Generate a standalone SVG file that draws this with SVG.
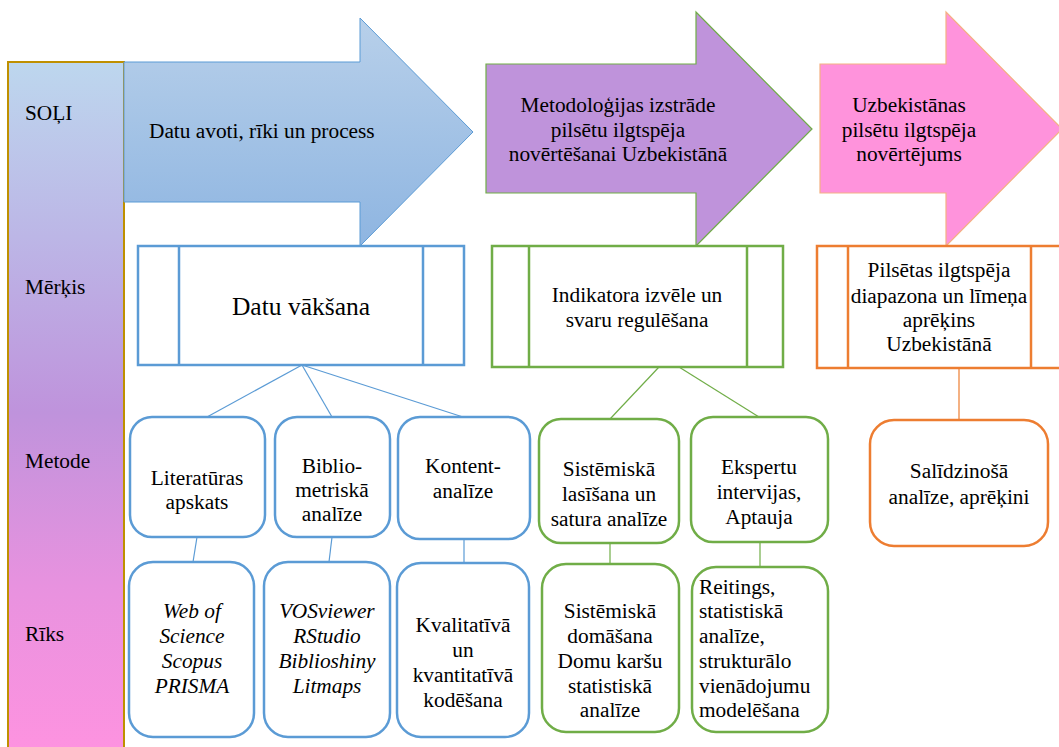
<svg xmlns="http://www.w3.org/2000/svg" width="1059" height="747" viewBox="0 0 1059 747">
<defs>
<linearGradient id="gBar" x1="0" y1="0" x2="0" y2="1">
<stop offset="0" stop-color="#bdd7ee"/>
<stop offset="0.25" stop-color="#bcb6e6"/>
<stop offset="0.5" stop-color="#bf93dc"/>
<stop offset="0.75" stop-color="#e892df"/>
<stop offset="1" stop-color="#ff93e0"/>
</linearGradient>
<linearGradient id="gA1" x1="0" y1="0" x2="0" y2="1">
<stop offset="0" stop-color="#b8d0ea"/>
<stop offset="1" stop-color="#8eb5e1"/>
</linearGradient>
<style>
text{font-family:'Liberation Serif','Times New Roman','DejaVu Serif',serif;font-size:21.33px}
.c{text-anchor:middle}
.it{font-style:italic}
.big{font-size:25.5px}
.pb{fill:#fff;stroke:#5b9bd5;stroke-width:2.5}
.pg{fill:#fff;stroke:#70ad47;stroke-width:2.5}
.po{fill:#fff;stroke:#ed7d31;stroke-width:2.5}
.rb{fill:#fff;stroke:#5b9bd5;stroke-width:2.5}
.rg{fill:#fff;stroke:#70ad47;stroke-width:2.5}
.ro{fill:#fff;stroke:#ed7d31;stroke-width:2.5}
.lb{stroke:#5b9bd5;stroke-width:1.2;fill:none}
.lg{stroke:#70ad47;stroke-width:1.2;fill:none}
.lo{stroke:#ed7d31;stroke-width:1.2;fill:none}
</style>
</defs>
<rect width="1059" height="747" fill="#fff"/>

<g id="bar">
<rect x="8" y="62" width="116" height="700" fill="url(#gBar)" stroke="#bf9000" stroke-width="2"/>
<text x="25" y="120">SOĻI</text>
<text x="25" y="294">Mērķis</text>
<text x="25" y="468">Metode</text>
<text x="25" y="641">Rīks</text>
</g>

<g id="arrow1">
<path d="M124,62 H360 V18 L473,132 L360,246 V202 H124 Z" fill="url(#gA1)" stroke="#5b9bd5" stroke-width="1"/>
<text x="149" y="138">Datu avoti, rīki un process</text>
</g>

<g id="arrow2">
<path d="M486,64 H696 V12 L812,129 L696,246 V193 H486 Z" fill="#bf93db" stroke="#70ad47" stroke-width="1.2"/>
<text class="c" x="618" y="112">Metodoloģijas izstrāde</text>
<text class="c" x="618" y="137">pilsētu ilgtspēja</text>
<text class="c" x="618" y="161">novērtēšanai Uzbekistānā</text>
</g>

<g id="arrow3">
<path d="M820,64 H946 V12 L1062,129 L946,246 V193 H820 Z" fill="#ff93dc" stroke="#f4b183" stroke-width="1.2"/>
<text class="c" x="909" y="112">Uzbekistānas</text>
<text class="c" x="909" y="137">pilsētu ilgtspēja</text>
<text class="c" x="909" y="161">novērtējums</text>
</g>

<g id="connectors">
<line class="lb" x1="302" y1="365" x2="207" y2="417"/>
<line class="lb" x1="302" y1="365" x2="332" y2="417"/>
<line class="lb" x1="302" y1="365" x2="463" y2="417"/>
<line class="lb" x1="197" y1="537" x2="193" y2="562"/>
<line class="lb" x1="332" y1="537" x2="329" y2="562"/>
<line class="lb" x1="464" y1="539" x2="464" y2="563"/>
<line class="lg" x1="659" y1="367" x2="610" y2="419"/>
<line class="lg" x1="679" y1="367" x2="759" y2="417"/>
<line class="lg" x1="610" y1="543" x2="610" y2="564"/>
<line class="lg" x1="760" y1="542" x2="760" y2="567"/>
<line class="lo" x1="959" y1="368" x2="959" y2="420"/>
</g>

<g id="box-datu">
<rect class="pb" x="138" y="246" width="326" height="119"/>
<line class="pb" x1="179" y1="246" x2="179" y2="365"/>
<line class="pb" x1="423" y1="246" x2="423" y2="365"/>
<text class="c big" x="301" y="315">Datu vākšana</text>
</g>

<g id="box-indikatora">
<rect class="pg" x="492" y="246" width="291" height="121"/>
<line class="pg" x1="529" y1="246" x2="529" y2="367"/>
<line class="pg" x1="747" y1="246" x2="747" y2="367"/>
<text class="c" x="637" y="302">Indikatora izvēle un</text>
<text class="c" x="637" y="327">svaru regulēšana</text>
</g>

<g id="box-pilsetas">
<rect class="po" x="817" y="246" width="245" height="122"/>
<line class="po" x1="848" y1="246" x2="848" y2="368"/>
<line class="po" x1="1031" y1="246" x2="1031" y2="368"/>
<text class="c" x="939" y="277">Pilsētas ilgtspēja</text>
<text class="c" x="939" y="303">diapazona un līmeņa</text>
<text class="c" x="939" y="327">aprēķins</text>
<text class="c" x="939" y="351">Uzbekistānā</text>
</g>

<g id="m-literaturas">
<rect class="rb" x="130" y="417" width="135" height="120" rx="22"/>
<text class="c" x="197" y="485">Literatūras</text>
<text class="c" x="197" y="509">apskats</text>
</g>
<g id="m-biblio">
<rect class="rb" x="275" y="417" width="115" height="120" rx="22"/>
<text class="c" x="332" y="473">Biblio-</text>
<text class="c" x="332" y="497">metriskā</text>
<text class="c" x="332" y="521">analīze</text>
</g>
<g id="m-kontent">
<rect class="rb" x="398" y="417" width="132" height="122" rx="22"/>
<text class="c" x="463" y="473">Kontent-</text>
<text class="c" x="463" y="498">analīze</text>
</g>
<g id="m-sistemiska">
<rect class="rg" x="539" y="419" width="140" height="124" rx="22"/>
<text class="c" x="609" y="476">Sistēmiskā</text>
<text class="c" x="609" y="501">lasīšana un</text>
<text class="c" x="609" y="526">satura analīze</text>
</g>
<g id="m-ekspertu">
<rect class="rg" x="691" y="417" width="137" height="125" rx="22"/>
<text class="c" x="759" y="474">Ekspertu</text>
<text class="c" x="759" y="499">intervijas,</text>
<text class="c" x="759" y="524">Aptauja</text>
</g>
<g id="m-salidzinosa">
<rect class="ro" x="870" y="420" width="178" height="126" rx="24"/>
<text class="c" x="959" y="478">Salīdzinošā</text>
<text class="c" x="959" y="504">analīze, aprēķini</text>
</g>

<g id="t-web">
<rect class="rb" x="129" y="562" width="125" height="175" rx="24"/>
<text class="c it" x="192" y="618">Web of</text>
<text class="c it" x="192" y="643">Science</text>
<text class="c it" x="192" y="668">Scopus</text>
<text class="c it" x="192" y="693">PRISMA</text>
</g>
<g id="t-vos">
<rect class="rb" x="264" y="562" width="126" height="175" rx="24"/>
<text class="c it" x="327" y="618">VOSviewer</text>
<text class="c it" x="327" y="643">RStudio</text>
<text class="c it" x="327" y="668">Biblioshiny</text>
<text class="c it" x="327" y="693">Litmaps</text>
</g>
<g id="t-kval">
<rect class="rb" x="397" y="563" width="132" height="174" rx="24"/>
<text class="c" x="463" y="632">Kvalitatīvā</text>
<text class="c" x="463" y="657">un</text>
<text class="c" x="463" y="682">kvantitatīvā</text>
<text class="c" x="463" y="707">kodēšana</text>
</g>
<g id="t-sist">
<rect class="rg" x="542" y="564" width="137" height="168" rx="24"/>
<text class="c" x="610" y="618">Sistēmiskā</text>
<text class="c" x="610" y="643">domāšana</text>
<text class="c" x="610" y="668">Domu karšu</text>
<text class="c" x="610" y="693">statistiskā</text>
<text class="c" x="610" y="717">analīze</text>
</g>
<g id="t-reit">
<rect class="rg" x="692" y="567" width="136" height="165" rx="24"/>
<text x="699" y="594">Reitings,</text>
<text x="699" y="618">statistiskā</text>
<text x="699" y="643">analīze,</text>
<text x="699" y="668">strukturālo</text>
<text x="699" y="693">vienādojumu</text>
<text x="699" y="717">modelēšana</text>
</g>
</svg>
